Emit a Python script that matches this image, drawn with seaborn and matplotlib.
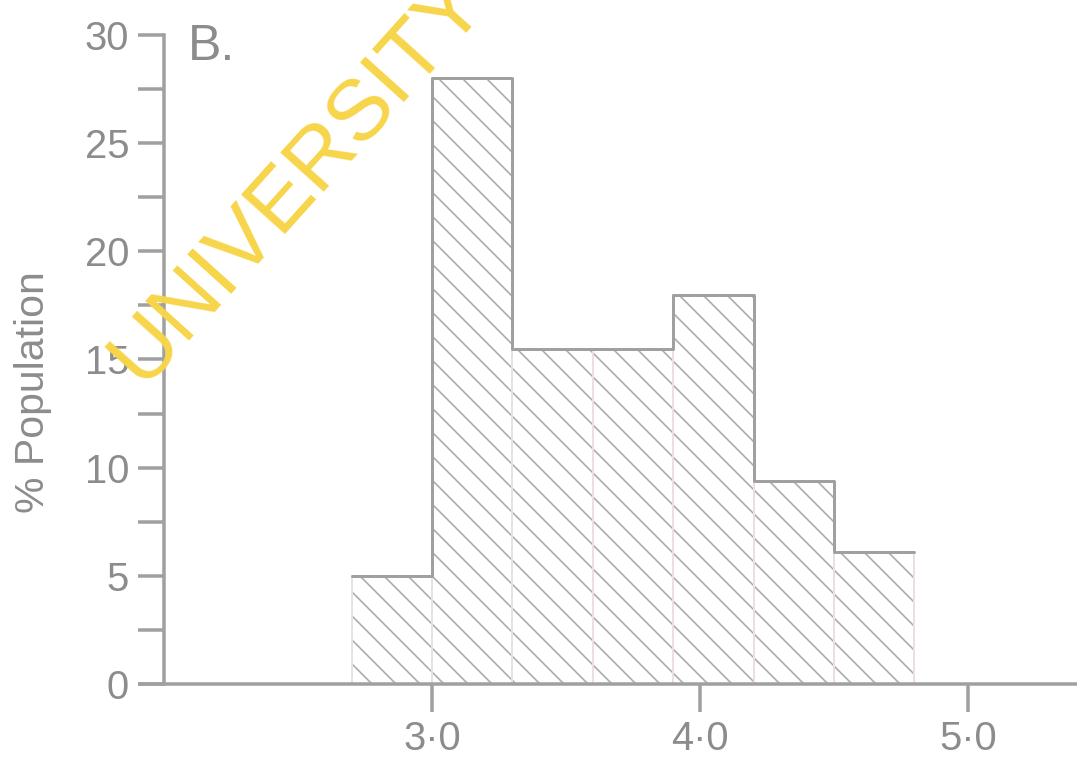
import matplotlib
matplotlib.use("Agg")
import matplotlib.pyplot as plt
import seaborn as sns
import numpy as np

# ---- data ----
bin_edges = [2.7, 3.0, 3.3, 3.6, 3.9, 4.2, 4.5, 4.8]
pct_population = [5.0, 28.0, 15.5, 15.5, 18.0, 9.4, 6.1]
x_ticks = [3.0, 4.0, 5.0]
x_tick_labels = ["3·0", "4·0", "5·0"]
y_ticks = [0, 5, 10, 15, 20, 25, 30]
y_minor_ticks = [2.5, 7.5, 12.5, 17.5, 22.5, 27.5]

centers = [(a + b) / 2 for a, b in zip(bin_edges[:-1], bin_edges[1:])]

sns.set_theme(style="white")
plt.rcParams['font.family'] = ['Liberation Sans', 'DejaVu Sans']
plt.rcParams['hatch.linewidth'] = 1.6

DPI = 72  # at 72 dpi, 1 pt == 1 px
gray = "#a0a0a0"
tgray = "#8c8c8c"

fig = plt.figure(figsize=(1077 / DPI, 757 / DPI), dpi=DPI)
ax = fig.add_axes([0.13, 0.0964, 0.87, 0.8574])

# hatched bars
sns.histplot(x=centers, weights=pct_population, bins=bin_edges, ax=ax,
             element="bars", fill=True, color="white", linewidth=0)
for p in ax.patches:
    p.set_facecolor("white")
    p.set_edgecolor("#a9a9a9")
    p.set_hatch("\\")
    p.set_linewidth(0)
# faint inner dividers
sns.histplot(x=centers, weights=pct_population, bins=bin_edges, ax=ax,
             element="bars", fill=False, color="#ecdfdf", linewidth=2)
# outer outline
sns.histplot(x=centers, weights=pct_population, bins=bin_edges, ax=ax,
             element="step", fill=False, color=gray, linewidth=3)

ax.set_xlim(1.91, 5.407)
ax.set_ylim(0, 30)
ax.set_xlabel("")
ax.set_ylabel("% Population", fontsize=41, color=tgray)
ax.yaxis.set_label_coords(-0.094, 0.45)

for s in ["top", "right"]:
    ax.spines[s].set_visible(False)
ax.spines["left"].set_position(("data", 2.0))
ax.spines["left"].set_color(gray)
ax.spines["left"].set_linewidth(3.5)
ax.spines["bottom"].set_color(gray)
ax.spines["bottom"].set_linewidth(3.5)

ax.set_xticks(x_ticks)
ax.set_xticklabels(x_tick_labels)
ax.set_yticks(y_ticks)
ax.set_yticks(y_minor_ticks, minor=True)
ax.tick_params(axis="x", direction="out", length=28, width=3.5, color=gray,
               labelsize=40, labelcolor=tgray, pad=8, bottom=True)
ax.tick_params(axis="y", which="major", direction="out", length=26, width=3.5,
               color=gray, labelsize=40, labelcolor=tgray, pad=9, left=True)
ax.tick_params(axis="y", which="minor", direction="out", length=26, width=3.5,
               color=gray, left=True)

ax.text(2.09, 28.85, "B.", fontsize=50, color=tgray, ha="left", va="baseline")

# watermark
fig.text(298 / 1077, 1 - 180 / 757, "UNIVERSITY", fontsize=86, color="#f7d54a",
         rotation=48, ha="center", va="center", rotation_mode="anchor")

fig.savefig("out.png", dpi=DPI, facecolor="white")
